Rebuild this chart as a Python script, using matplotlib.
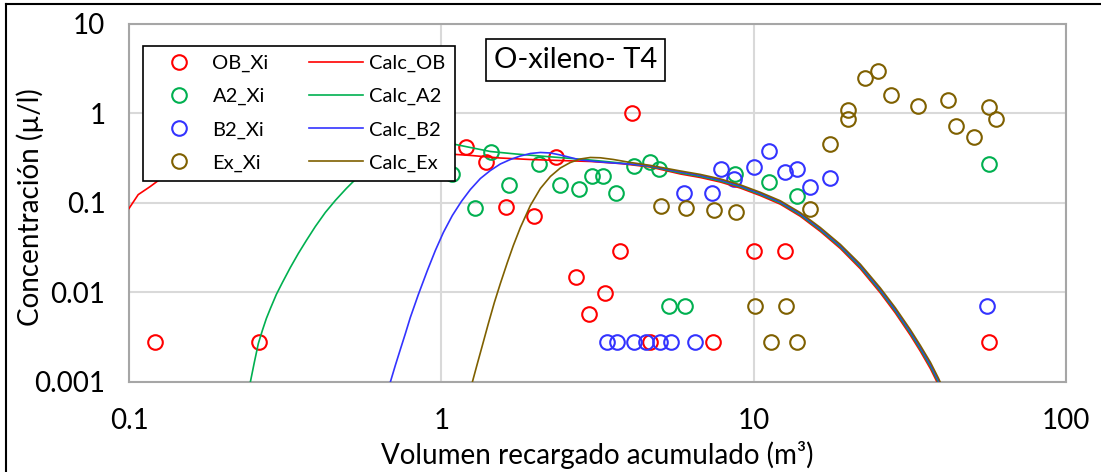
import matplotlib
matplotlib.use("Agg")
import matplotlib.pyplot as plt
from matplotlib.lines import Line2D

plt.rcParams['font.family'] = ['Lato', 'DejaVu Sans']

# measured points
ob_x = [0.121, 0.26, 0.985, 1.2, 1.39, 1.61, 1.98, 2.33, 2.69, 2.98, 3.35, 3.72, 4.09, 4.67, 7.43, 10.0, 12.6, 56.5]
ob_y = [0.0028, 0.0028, 0.31, 0.42, 0.29, 0.091, 0.072, 0.33, 0.015, 0.0058, 0.0098, 0.029, 1.0, 0.0028, 0.0028, 0.029, 0.029, 0.0028]

a2_x = [1.08, 1.28, 1.44, 1.65, 2.06, 2.39, 2.75, 3.04, 3.3, 3.63, 4.15, 4.64, 4.99, 5.37, 6.04, 8.74, 11.2, 13.8, 56.5]
a2_y = [0.21, 0.089, 0.37, 0.16, 0.27, 0.16, 0.145, 0.2, 0.2, 0.13, 0.26, 0.29, 0.24, 0.007, 0.007, 0.21, 0.17, 0.12, 0.27]

b2_x = [3.40, 3.66, 4.15, 4.53, 5.02, 5.45, 6.5, 6.0, 7.38, 7.88, 8.65, 10.0, 11.2, 12.6, 13.8, 15.1, 17.5, 56.0]
b2_y = [0.0028, 0.0028, 0.0028, 0.0028, 0.0028, 0.0028, 0.0028, 0.13, 0.13, 0.24, 0.185, 0.25, 0.38, 0.22, 0.24, 0.15, 0.19, 0.007]

ex_x = [5.06, 6.08, 7.48, 8.8, 10.1, 11.4, 12.7, 13.8, 15.1, 17.6, 20.1, 20.1, 22.8, 25.1, 27.6, 33.6, 42.0, 44.6, 50.9, 56.5, 59.8]
ex_y = [0.092, 0.087, 0.083, 0.08, 0.007, 0.0028, 0.007, 0.0028, 0.085, 0.46, 1.1, 0.86, 2.5, 3.0, 1.59, 1.2, 1.4, 0.72, 0.54, 1.17, 0.86]

# calculated curves
tail_x = [5.826, 6.752, 7.823, 9.067, 10.51, 12.17, 14.11, 16.35, 18.95, 21.96, 25.45, 28.43, 31.75, 34.19, 36.80, 39.04, 41.40]

calc_ob_x = [0.1, 0.107, 0.117, 0.128, 0.16, 0.22, 0.35, 0.6, 0.85, 1.0, 1.238, 1.545, 1.927, 2.404, 3.0, 3.742, 4.669] + tail_x
calc_ob_y = [0.087, 0.124, 0.153, 0.193, 0.26, 0.32, 0.37, 0.38, 0.365, 0.357, 0.34, 0.318, 0.306, 0.298, 0.291, 0.276, 0.252,
             0.2109, 0.1926, 0.1714, 0.1468, 0.1209, 0.0970, 0.0710, 0.0481, 0.0310, 0.01842, 0.00989, 0.00589,
             0.00333, 0.00220, 0.00141, 0.000929, 0.000587]

calc_a2_x = [0.2446, 0.2518, 0.2594, 0.2672, 0.2752, 0.2835, 0.2962, 0.3097, 0.3284, 0.3484, 0.3696, 0.3949, 0.4250,
             0.4576, 0.4963, 0.5423, 0.6378, 0.7390, 0.8565, 1.0, 1.109, 1.238, 1.435, 1.726, 2.07, 2.495, 3.0, 3.742,
             4.669] + tail_x
calc_a2_y = [0.001, 0.00165, 0.00269, 0.00376, 0.00512, 0.00662, 0.0095, 0.0129, 0.019, 0.0273, 0.0381, 0.0546, 0.0783,
             0.1067, 0.1452, 0.1978, 0.306, 0.396, 0.462, 0.487, 0.451, 0.417, 0.376, 0.353, 0.335, 0.318, 0.302, 0.280,
             0.256,
             0.2163, 0.1977, 0.1760, 0.1509, 0.1243, 0.0998, 0.0732, 0.0497, 0.0321, 0.01915, 0.01031, 0.00616,
             0.00349, 0.00231, 0.00149, 0.000984, 0.000625]

calc_b2_x = [0.6866, 0.7121, 0.7390, 0.7671, 0.7955, 0.8441, 0.9020, 0.9568, 1.0148, 1.0844, 1.1588, 1.2385, 1.3335,
             1.4354, 1.545, 1.6634, 1.7906, 1.9275, 2.0749, 2.2336, 2.4044, 2.5884, 2.7864, 3.1122, 3.5536, 4.0297,
             4.669] + tail_x
calc_b2_y = [0.001, 0.00153, 0.00231, 0.00348, 0.00526, 0.0095, 0.0176, 0.0295, 0.0468, 0.0725, 0.1039, 0.1415, 0.1878,
             0.2307, 0.2728, 0.3062, 0.3350, 0.3573, 0.3667, 0.3620, 0.3439, 0.3224, 0.3022, 0.2909, 0.2798, 0.2720,
             0.259,
             0.2220, 0.2030, 0.1807, 0.1550, 0.1278, 0.1028, 0.0755, 0.0514, 0.0332, 0.01990, 0.01075, 0.00643,
             0.00366, 0.00243, 0.00157, 0.001042, 0.000665]

calc_ex_x = [1.2569, 1.3043, 1.3530, 1.4142, 1.4781, 1.545, 1.6266, 1.7001, 1.7906, 1.9275, 2.0749, 2.2336, 2.4044,
             2.5884, 2.7864, 2.9995, 3.2289, 3.5536, 4.0297, 4.669] + tail_x
calc_ex_y = [0.001, 0.00161, 0.00256, 0.0045, 0.00773, 0.0126, 0.0216, 0.0335, 0.0532, 0.0938, 0.1452, 0.1978, 0.2461,
             0.2835, 0.3101, 0.3224, 0.3199, 0.3062, 0.2835, 0.263,
             0.2278, 0.2084, 0.1856, 0.1593, 0.1314, 0.1058, 0.0779, 0.0531, 0.0344, 0.02067, 0.01121, 0.00673,
             0.00384, 0.00255, 0.00166, 0.001104, 0.000707]

red, green, blue, brown = '#FF0000', '#00B050', '#3333FF', '#7F6000'

fig = plt.figure(figsize=(11.01, 4.72), dpi=100)
ax = fig.add_axes([0.1172, 0.1907, 0.851, 0.7585])
ax.set_xscale('log')
ax.set_yscale('log')
ax.set_xlim(0.1, 100)
ax.set_ylim(0.001, 10)

ax.grid(True, which='major', color='#D9D9D9', lw=1.5, zorder=0)
ax.axvline(1, color='#8C8C8C', lw=1.4, zorder=1)
ax.axhline(1, color='#8C8C8C', lw=1.4, zorder=1)
for yv in [0.001, 0.01, 0.1, 1, 10]:
    ax.plot(1, yv, marker=0, ms=6, mew=1.4, color='#8C8C8C', clip_on=False, zorder=1)
for s in ax.spines.values():
    s.set_color('#A6A6A6')
    s.set_linewidth(1.5)

mk = dict(ls='none', marker='o', ms=10.5, mfc='none', mew=1.5, zorder=3)
ax.plot(ob_x, ob_y, mec=red, label='OB_Xi', **mk)
ax.plot(a2_x, a2_y, mec=green, label='A2_Xi', **mk)
ax.plot(b2_x, b2_y, mec=blue, label='B2_Xi', **mk)
ax.plot(ex_x, ex_y, mec=brown, label='Ex_Xi', **mk)

ax.plot(calc_ob_x, calc_ob_y, color=red, lw=1.2, label='Calc_OB', zorder=4)
ax.plot(calc_a2_x, calc_a2_y, color=green, lw=1.2, label='Calc_A2', zorder=4)
ax.plot(calc_b2_x, calc_b2_y, color=blue, lw=1.2, label='Calc_B2', zorder=4)
ax.plot(calc_ex_x, calc_ex_y, color=brown, lw=1.2, label='Calc_Ex', zorder=4)

ax.set_xticks([0.1, 1, 10, 100])
ax.set_xticklabels(['0.1', '1', '10', '100'])
ax.set_yticks([0.001, 0.01, 0.1, 1, 10])
ax.set_yticklabels(['0.001', '0.01', '0.1', '1', '10'])
ax.minorticks_off()
ax.tick_params(axis='both', length=0, labelsize=20, colors='black')
ax.tick_params(axis='x', pad=19)
ax.tick_params(axis='y', pad=17)

leg = ax.legend(ncol=2, loc='upper left', bbox_to_anchor=(0.0149, 0.9385), borderaxespad=0,
                fontsize=14.5, frameon=True, fancybox=False, framealpha=1, edgecolor='black',
                handlelength=2.7, handletextpad=0.3, columnspacing=2.0, labelspacing=0.78,
                borderpad=0.45)
leg.get_frame().set_linewidth(1.2)
leg.set_zorder(10)

ax.text(0.4765, 0.8994, 'O-xileno- T4', transform=ax.transAxes, fontsize=21, ha='center', va='center',
        bbox=dict(boxstyle='square,pad=0.28', fc='white', ec='black', lw=1.2), zorder=11)

fig.text(597 / 1101, 1 - 455 / 472, 'Volumen recargado acumulado (m³)', fontsize=20, ha='center', va='center')
fig.text(30 / 1101, 1 - 207 / 472, 'Concentración (µ/l)', fontsize=20, ha='center', va='center', rotation=90)

# outer chart frame
fig.add_artist(Line2D([6 / 1101, 1], [1 - 4 / 472, 1 - 4 / 472], color='black', lw=1.5))
fig.add_artist(Line2D([6 / 1101, 6 / 1101], [0, 1 - 4 / 472], color='black', lw=1.5))

fig.savefig('out.png', dpi=100)
